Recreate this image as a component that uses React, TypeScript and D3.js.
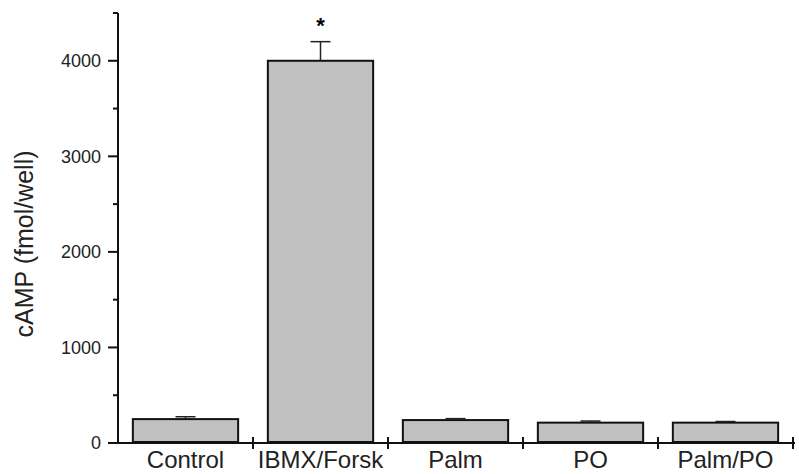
import * as d3 from "d3";
import React, { useRef, useEffect } from "react";

const categories = ["Control", "IBMX/Forsk", "Palm", "PO", "Palm/PO"];
const means = [250, 4000, 240, 213, 213];
const errors = [25, 200, 15, 17, 12];
const significant = [false, true, false, false, false];
const majorTicks = [0, 1000, 2000, 3000, 4000];
const minorTicks = [500, 1500, 2500, 3500, 4500];

const App: React.FC = () => {
  const svgRef = useRef<SVGSVGElement | null>(null);

  useEffect(() => {
    const width = 799;
    const height = 474;
    const left = 118, right = 793, top = 13, bottom = 443;
    const font = "Liberation Sans, Arial, Helvetica, sans-serif";

    const svg = d3.select(svgRef.current)
      .attr("width", width)
      .attr("height", height)
      .html("");

    const x = d3.scaleBand()
      .domain(categories)
      .range([left, right])
      .paddingInner(0.22)
      .paddingOuter(0.11);

    const y = d3.scaleLinear()
      .domain([0, 4500])
      .range([bottom, top]);

    const data = categories.map((c, i) => ({ c, m: means[i], e: errors[i], s: significant[i] }));

    // Bars
    svg.append("g")
      .selectAll("rect")
      .data(data)
      .enter()
      .append("rect")
      .attr("x", d => x(d.c)!)
      .attr("width", x.bandwidth())
      .attr("y", d => y(d.m))
      .attr("height", d => y(0) - y(d.m) - 1)
      .attr("fill", "#c0c0c0")
      .attr("stroke", "#111")
      .attr("stroke-width", 2);

    // Error bars (upper only)
    const err = svg.append("g").attr("stroke", "#222").attr("stroke-width", 1.5);
    data.forEach(d => {
      const cx = x(d.c)! + x.bandwidth() / 2;
      err.append("line")
        .attr("x1", cx).attr("x2", cx)
        .attr("y1", y(d.m)).attr("y2", y(d.m + d.e));
      err.append("line")
        .attr("x1", cx - 10).attr("x2", cx + 10)
        .attr("y1", y(d.m + d.e)).attr("y2", y(d.m + d.e));
    });

    // Significance markers
    svg.append("g")
      .selectAll("text")
      .data(data.filter(d => d.s))
      .enter()
      .append("text")
      .attr("x", d => x(d.c)! + x.bandwidth() / 2)
      .attr("y", d => y(d.m + d.e) - 9)
      .attr("text-anchor", "middle")
      .style("font-family", font)
      .style("font-size", "22px")
      .style("font-weight", "bold")
      .text("*");

    // Y axis
    const yAxis = svg.append("g").attr("stroke", "#111");
    yAxis.append("line")
      .attr("x1", left).attr("x2", left)
      .attr("y1", y(4500)).attr("y2", y(0) + 1)
      .attr("stroke-width", 2);
    majorTicks.forEach(t => {
      yAxis.append("line")
        .attr("x1", left - 10).attr("x2", left)
        .attr("y1", y(t)).attr("y2", y(t))
        .attr("stroke-width", 2);
    });
    minorTicks.forEach(t => {
      yAxis.append("line")
        .attr("x1", left - 5).attr("x2", left)
        .attr("y1", y(t)).attr("y2", y(t))
        .attr("stroke-width", 2);
    });
    svg.append("g")
      .selectAll("text")
      .data(majorTicks)
      .enter()
      .append("text")
      .attr("x", left - 17)
      .attr("y", d => y(d))
      .attr("dy", "0.36em")
      .attr("text-anchor", "end")
      .style("font-family", font)
      .style("font-size", "18px")
      .style("fill", "#222")
      .text(d => d);

    // X axis
    const xAxis = svg.append("g").attr("stroke", "#111").attr("stroke-width", 2);
    xAxis.append("line")
      .attr("x1", left).attr("x2", right + 2)
      .attr("y1", bottom).attr("y2", bottom);
    const step = x.step();
    const start = x(categories[0])! - step * x.paddingOuter();
    categories.forEach((_, i) => {
      const bx = start + step * (i + 1);
      xAxis.append("line")
        .attr("x1", bx).attr("x2", bx)
        .attr("y1", bottom - 6).attr("y2", bottom + 6);
    });
    svg.append("g")
      .selectAll("text")
      .data(categories)
      .enter()
      .append("text")
      .attr("x", d => x(d)! + x.bandwidth() / 2)
      .attr("y", 468)
      .attr("text-anchor", "middle")
      .style("font-family", font)
      .style("font-size", "24px")
      .style("fill", "#222")
      .text(d => d);

    // Y label
    svg.append("text")
      .attr("transform", `translate(33,244) rotate(-90)`)
      .attr("text-anchor", "middle")
      .style("font-family", font)
      .style("font-size", "25px")
      .style("fill", "#222")
      .text("cAMP (fmol/well)");
  }, []);

  return (
    <svg ref={svgRef} style={{ position: "absolute", left: 0, top: 0, background: "white" }}></svg>
  );
};

export default App;
